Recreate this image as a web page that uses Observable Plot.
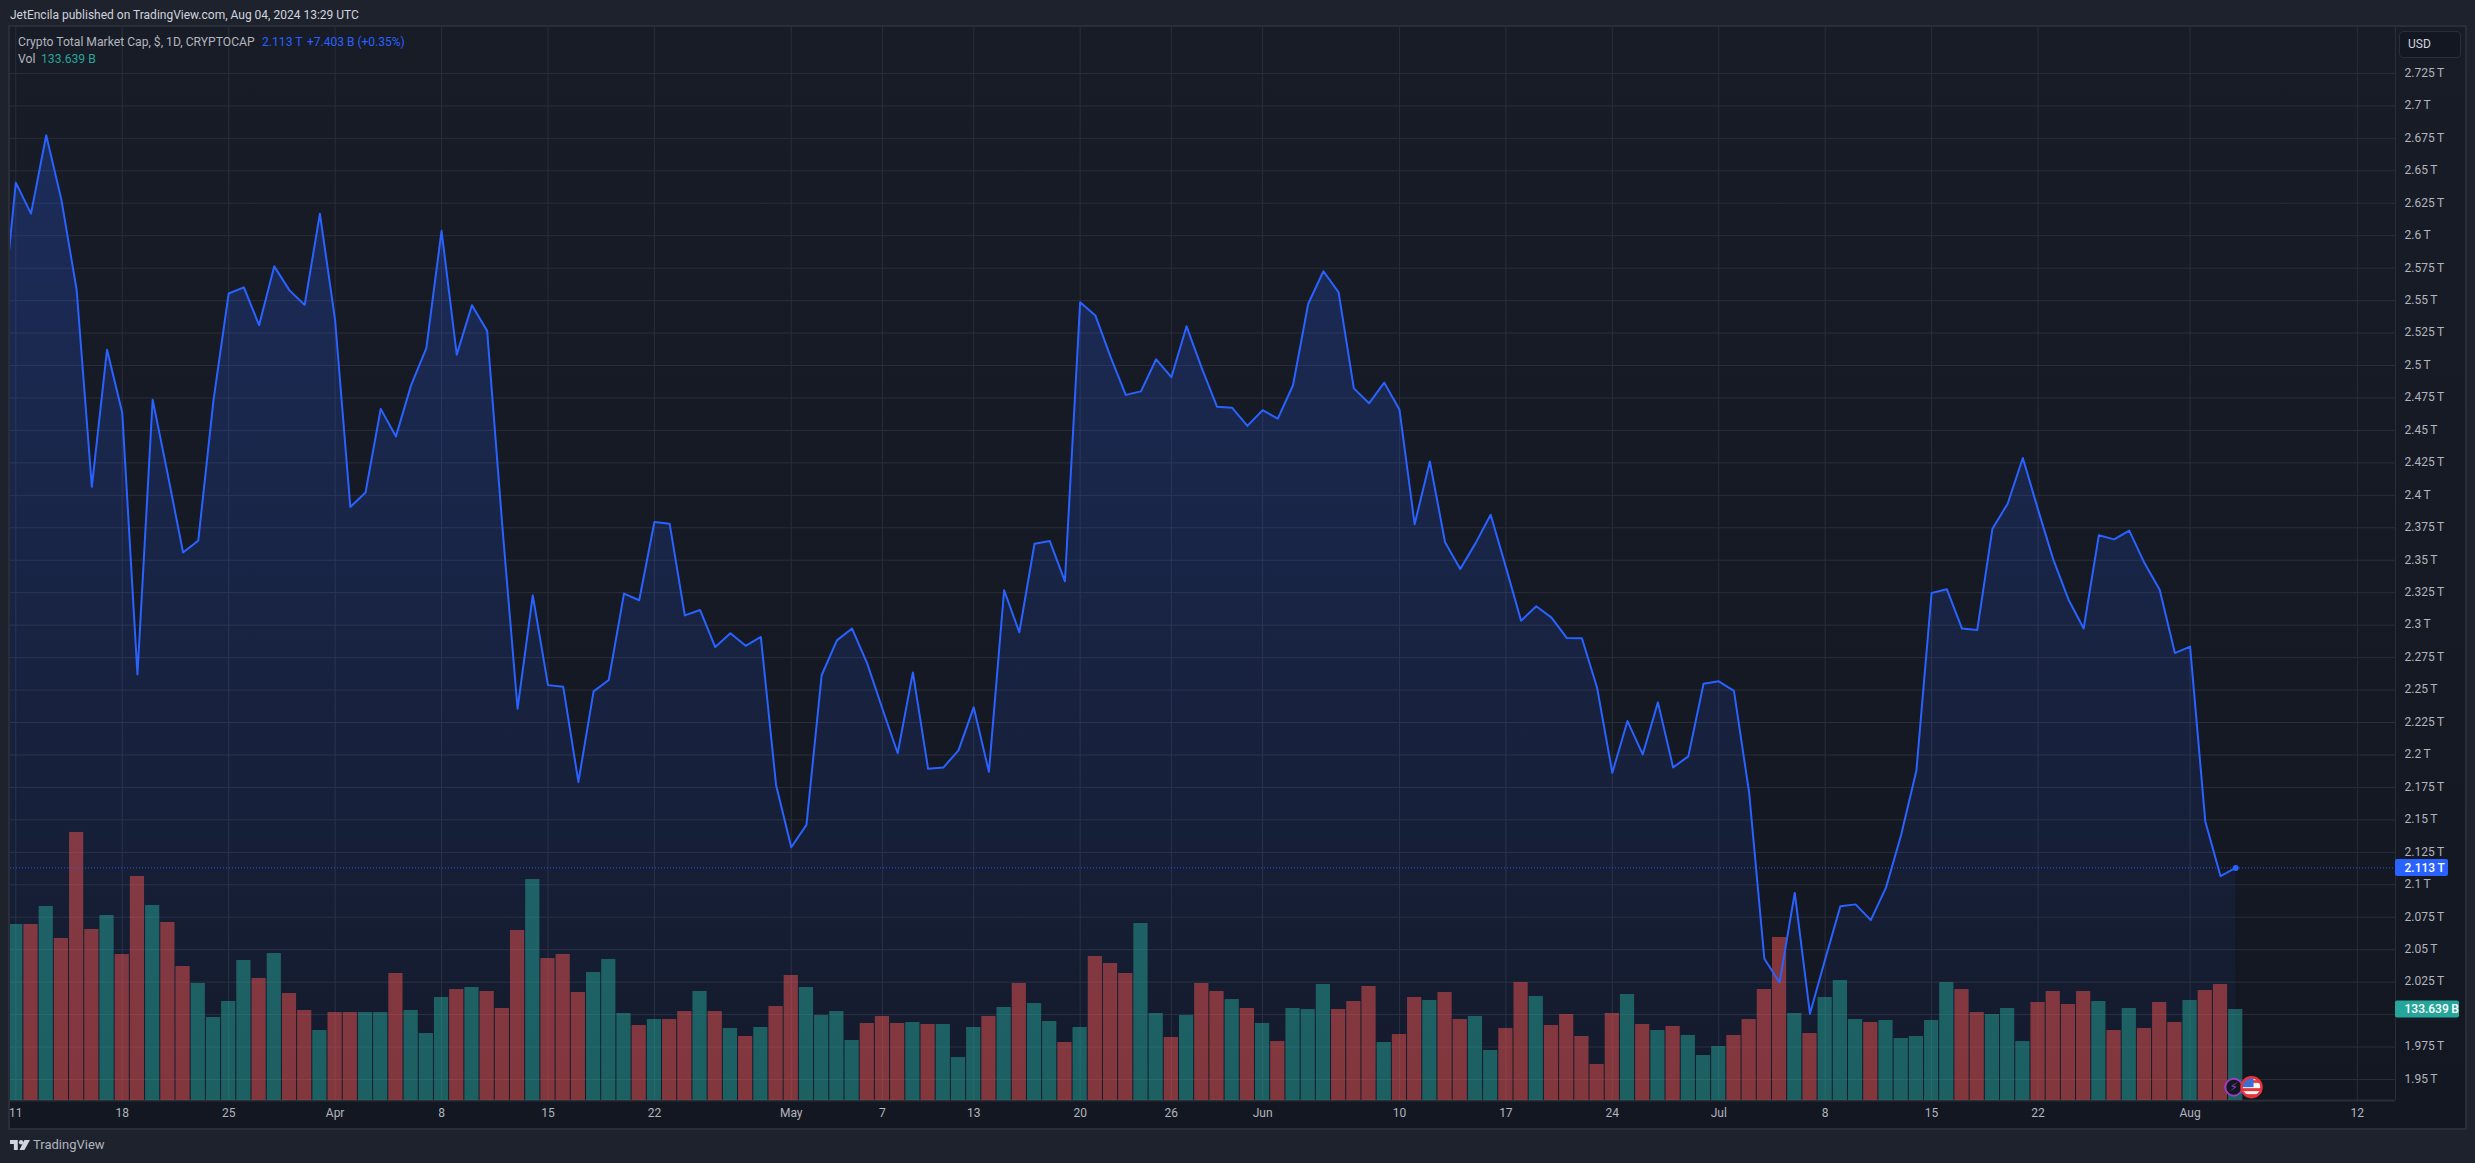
<!DOCTYPE html>
<html>
<head>
<meta charset="utf-8">
<script src="https://cdn.jsdelivr.net/npm/d3@7"></script>
<script src="https://cdn.jsdelivr.net/npm/@observablehq/plot@0.6"></script>
<style>
  html, body { margin: 0; padding: 0; background: #1e222d; overflow: hidden; }
  body { position: relative; width: 2475px; height: 1163px; font-family: Roboto, "Open Sans", sans-serif; }
  #panel { position: absolute; left: 8px; top: 25px; width: 2455px; height: 1101px; border: 2px solid #2a2e39;
           background: linear-gradient(#181c27, #131722); }
  #chart { position: absolute; left: 0; top: 0; }
  #chart svg { display: block; background: transparent; }
  .t { position: absolute; white-space: pre; font-size: 12.15px; line-height: 16px; color: #b2b5be; }
  #usd { position: absolute; left: 2399px; top: 31px; width: 62px; height: 27px; box-sizing: border-box;
         background: #131722; border: 1px solid #2a2e39; border-radius: 4px; color: #d1d4dc; font-size: 12px;
         line-height: 25px; padding-left: 8px; }
  #logo { position: absolute; left: 9.5px; top: 1140px; }
</style>
</head>
<body>
<div id="panel"></div>
<div id="chart"></div>
<div class="t" style="left:10px;top:7px;color:#d1d4dc;font-size:12px">JetEncila published on TradingView.com, Aug 04, 2024 13:29 UTC</div>
<div class="t" style="left:18px;top:34px">Crypto Total Market Cap, $, 1D, CRYPTOCAP</div>
<div class="t" style="left:262px;top:34px;color:#2962ff">2.113 T</div>
<div class="t" style="left:307px;top:34px;color:#2962ff;font-size:12px">+7.403 B (+0.35%)</div>
<div class="t" style="left:18px;top:51px">Vol</div>
<div class="t" style="left:41px;top:51px;color:#26a69a">133.639 B</div>
<div id="usd">USD</div>
<svg id="logo" width="20" height="10" viewBox="0 0 36 18"><path fill="#d1d4dc" d="M0 0H14V18H7V7H0Z"/><circle cx="20" cy="4" r="4" fill="#d1d4dc"/><path fill="#d1d4dc" d="M26 0H36L26 18H17Z"/></svg>
<div class="t" style="left:33px;top:1137px;font-size:13px;color:#b2b5be">TradingView</div>

<script>
// Mar 10 2024 close, then one close per day from Mar 11 (trillions of USD)
const priceDayBefore = 2.5225;
const closes = [
  2.6409,2.6170,2.6774,2.6276,2.5584,2.4066,2.5122,2.4637,2.2621,2.4737,
  2.4157,2.3560,2.3651,2.4731,2.5555,2.5602,2.5311,2.5764,2.5579,2.5467,
  2.6170,2.5349,2.3910,2.4022,2.4666,2.4454,2.4849,2.5134,2.6038,2.5084,
  2.5464,2.5267,2.3760,2.2356,2.3230,2.2538,2.2526,2.1792,2.2490,2.2578,
  2.3243,2.3192,2.3795,2.3782,2.3075,2.3117,2.2831,2.2938,2.2841,2.2909,
  2.1769,2.1289,2.1461,2.2614,2.2883,2.2974,2.2704,2.2354,2.2013,2.2636,
  2.1893,2.1903,2.2036,2.2367,2.1870,2.3269,2.2945,2.3627,2.3649,2.3338,
  2.5487,2.5386,2.5067,2.4774,2.4801,2.5048,2.4910,2.5302,2.4980,2.4683,
  2.4674,2.4535,2.4656,2.4591,2.4848,2.5476,2.5726,2.5564,2.4824,2.4709,
  2.4868,2.4662,2.3777,2.4261,2.3639,2.3432,2.3630,2.3851,2.3447,2.3034,
  2.3146,2.3058,2.2902,2.2899,2.2518,2.1863,2.2261,2.2004,2.2405,2.1904,
  2.1989,2.2549,2.2567,2.2493,2.1709,2.0430,2.0247,2.0937,2.0006,2.0427,
  2.0834,2.0849,2.0728,2.0978,2.1385,2.1880,2.3248,2.3277,2.2974,2.2962,
  2.3743,2.3935,2.4288,2.3890,2.3507,2.3198,2.2974,2.3693,2.3661,2.3728,
  2.3478,2.3272,2.2785,2.2835,2.1488,2.1067,2.1130
];
// Daily volume (billions of USD)
const volumes = [
  258.5,258.5,284.9,237.9,393.6,251.1,271.7,214.4,328.9,286.4,
  261.4,196.8,171.8,121.9,145.4,205.6,179.2,215.9,157.1,132.2,
  102.8,129.2,129.2,129.2,129.2,186.5,132.2,98.4,151.3,163.0,
  165.9,160.1,135.1,249.6,324.5,208.5,214.4,158.6,188.0,207.1,
  127.8,110.1,118.9,118.9,130.7,160.1,130.7,105.7,94.0,107.2,
  138.0,183.6,165.9,124.8,130.7,88.1,113.1,123.4,113.1,114.5,
  111.6,111.6,63.1,107.2,123.4,136.6,171.8,142.4,116.0,85.2,
  107.2,211.5,201.2,186.5,259.9,127.8,92.5,124.8,171.8,160.1,
  148.3,135.1,113.1,86.6,135.1,133.6,170.3,133.6,145.4,167.4,
  85.2,96.9,151.3,146.9,158.6,118.9,123.4,73.4,105.7,173.3,
  152.7,110.1,126.3,94.0,52.9,127.8,155.7,111.6,102.8,108.7,
  95.5,66.1,79.3,95.5,118.9,163.0,239.4,127.8,98.4,151.3,
  176.2,118.9,114.5,117.5,91.0,94.0,117.5,173.3,163.0,129.2,
  126.3,135.1,86.6,143.9,160.1,141.0,160.1,145.4,102.8,135.1,
  105.7,143.9,114.5,146.9,161.5,170.3,133.639
];
// T = teal (up) bar, R = red (down) bar
const volumeDirections = (
  "TRTRRRTRRT" + "RRTTTTRTRR" + "TRRTTRTTTR" + "TRRRTRRRTT" + "TRTRRTRTRT" +
  "RRTTTTRRRT" + "RTTTRTRTTR" + "TRRRTTRTRR" + "TRTRTTTRRR" + "TRRTRRTTRR" +
  "TRRRRRTRTR" + "TTTRRRRTRT" + "TTRTTTTTRR" + "TTTRRRRTRT" + "RRRTRRT"
).split("");
const priceTicks = d3.range(0, 32).map(i => +(1.95 + i * 0.025).toFixed(3));
const timeTickDates = ["2024-03-11","2024-03-18","2024-03-25","2024-04-01","2024-04-08","2024-04-15","2024-04-22","2024-05-01","2024-05-07","2024-05-13","2024-05-20","2024-05-26","2024-06-01","2024-06-10","2024-06-17","2024-06-24","2024-07-01","2024-07-08","2024-07-15","2024-07-22","2024-08-01","2024-08-12"];
const timeTickLabels = ["11","18","25","Apr","8","15","22","May","7","13","20","26","Jun","10","17","24","Jul","8","15","22","Aug","12"];
const lastPrice = 2.113;
const lastVolume = 133.639;

// ----- assembled tables
const firstDay = new Date(Date.UTC(2024, 2, 11));
const dayAt = i => d3.utcDay.offset(firstDay, i);
const series = closes.map((c, i) => ({date: dayAt(i), close: c, vol: volumes[i], dir: volumeDirections[i]}));
const lineData = [{date: dayAt(-1), close: priceDayBefore}, ...series];
const tickDates = timeTickDates.map(s => new Date(s + "T00:00Z"));
const labelFor = new Map(tickDates.map((d, i) => [+d, timeTickLabels[i]]));

// Volume shares the pane with price: its own 0 sits on the pane floor
const xDomain = [new Date(Date.UTC(2024, 2, 10, 15, 37)), new Date(Date.UTC(2024, 7, 14, 12, 14))];
const yDomain = [1.93382, 2.7604];
const tPerB = 0.0005246;
const volY = v => yDomain[0] + v * tPerB;
const halfBar = 0.467 * 864e5;
const lastDate = dayAt(closes.length - 1);
const iconY = 1.9441;
const fmtPrice = v => (+v.toFixed(3)) + "\u2009T";
// the 2 T label sits under the volume tag on the axis
const labelledPriceTicks = priceTicks.filter(v => v !== 2);

const defs = () => {
  const s = d3.create("svg:defs");
  const g = s.append("linearGradient").attr("id", "areaFill").attr("x1", 0).attr("x2", 0).attr("y1", 0).attr("y2", 1);
  g.append("stop").attr("offset", "0%").attr("stop-color", "#2962ff").attr("stop-opacity", 0.24);
  g.append("stop").attr("offset", "100%").attr("stop-color", "#2962ff").attr("stop-opacity", 0.04);
  const p = s.append("pattern").attr("id", "usFlag").attr("patternContentUnits", "objectBoundingBox").attr("width", 1).attr("height", 1);
  p.append("rect").attr("width", 1).attr("height", 1).attr("fill", "#f5f5f5");
  p.append("rect").attr("y", 0.55).attr("width", 1).attr("height", 0.15).attr("fill", "#e5343a");
  p.append("rect").attr("y", 0.85).attr("width", 1).attr("height", 0.15).attr("fill", "#e5343a");
  p.append("rect").attr("x", 0.55).attr("y", 0.15).attr("width", 0.45).attr("height", 0.14).attr("fill", "#e5343a");
  p.append("rect").attr("width", 0.6).attr("height", 0.5).attr("fill", "#3a6fd8");
  return s.node();
};

const plot = Plot.plot({
  width: 2475, height: 1163,
  marginLeft: 10, marginRight: 80, marginTop: 27, marginBottom: 63,
  style: {background: "transparent", fontFamily: "Roboto, 'Open Sans', sans-serif", fontSize: "12px", overflow: "visible"},
  x: {type: "utc", domain: xDomain, label: null},
  y: {domain: yDomain, label: null},
  marks: [
    defs,
    Plot.gridX(tickDates, {stroke: "#2a2e39", strokeOpacity: 1, strokeWidth: 1}),
    Plot.gridY(priceTicks, {stroke: "#2a2e39", strokeOpacity: 1, strokeWidth: 1}),
    Plot.areaY(lineData, {x: "date", y1: yDomain[0], y2: "close", fill: "url(#areaFill)", clip: true, curve: "linear"}),
    Plot.ruleY([yDomain[0]], {stroke: "#2a2e39", strokeWidth: 2}),
    Plot.ruleX([xDomain[1]], {stroke: "#2a2e39", strokeWidth: 1}),
    Plot.rect(series, {
      x1: d => new Date(+d.date - halfBar), x2: d => new Date(+d.date + halfBar),
      y1: yDomain[0], y2: d => volY(d.vol),
      fill: d => d.dir === "T" ? "#26a69a" : "#ef5350", fillOpacity: 0.5, clip: true
    }),
    Plot.ruleY([lastPrice], {stroke: "#2962ff", strokeWidth: 1, strokeOpacity: 0.85, strokeDasharray: "1 2"}),
    Plot.line(lineData, {x: "date", y: "close", stroke: "#2962ff", strokeWidth: 2, clip: true, curve: "linear"}),
    Plot.dot([{date: lastDate, close: lastPrice}], {x: "date", y: "close", r: 3, fill: "#2962ff"}),
    // event markers
    Plot.dot([lastDate], {x: d => d3.utcHour.offset(d, -3), y: iconY, r: 8.5, fill: "#131722", stroke: "#9a3fc0", strokeWidth: 2}),
    Plot.text(["\u26A1"], {x: d3.utcHour.offset(lastDate, -3), y: iconY, fill: "#9a3fc0", fontSize: 12, fontFamily: "DejaVu Sans"}),
    Plot.dot([lastDate], {x: d => d3.utcHour.offset(d, 25), y: iconY, r: 10, fill: "url(#usFlag)", stroke: "#e5343a", strokeWidth: 2.5}),
    // axes
    Plot.axisX({anchor: "bottom", ticks: tickDates, tickFormat: d => labelFor.get(+d), tickSize: 0, tickPadding: 8, fill: "#b2b5be", fontSize: 12, label: null}),
    Plot.axisY({anchor: "right", ticks: labelledPriceTicks, tickFormat: fmtPrice, tickSize: 0, tickPadding: 9, fill: "#b2b5be", fontSize: 12, dy: -0.5, label: null}),
    // price-axis tags
    Plot.rect([lastPrice], {x1: xDomain[1], x2: xDomain[1], y1: d => d, y2: d => d, insetRight: -53, insetTop: -8.5, insetBottom: -8.5, fill: "#2962ff", rx: 2, clip: false}),
    Plot.text([lastPrice], {x: xDomain[1], y: d => d, text: fmtPrice, dx: 9, textAnchor: "start", fill: "#fff", fontSize: 12, fontWeight: 500}),
    Plot.rect([lastVolume], {x1: xDomain[1], x2: xDomain[1], y1: volY, y2: volY, insetRight: -64, insetTop: -8.5, insetBottom: -8.5, fill: "#26a69a", rx: 2, clip: false}),
    Plot.text([lastVolume], {x: xDomain[1], y: volY, text: d => d + "\u2009B", dx: 9, textAnchor: "start", fill: "#fff", fontSize: 12, fontWeight: 500})
  ]
});
document.getElementById("chart").append(plot);
</script>
</body>
</html>
